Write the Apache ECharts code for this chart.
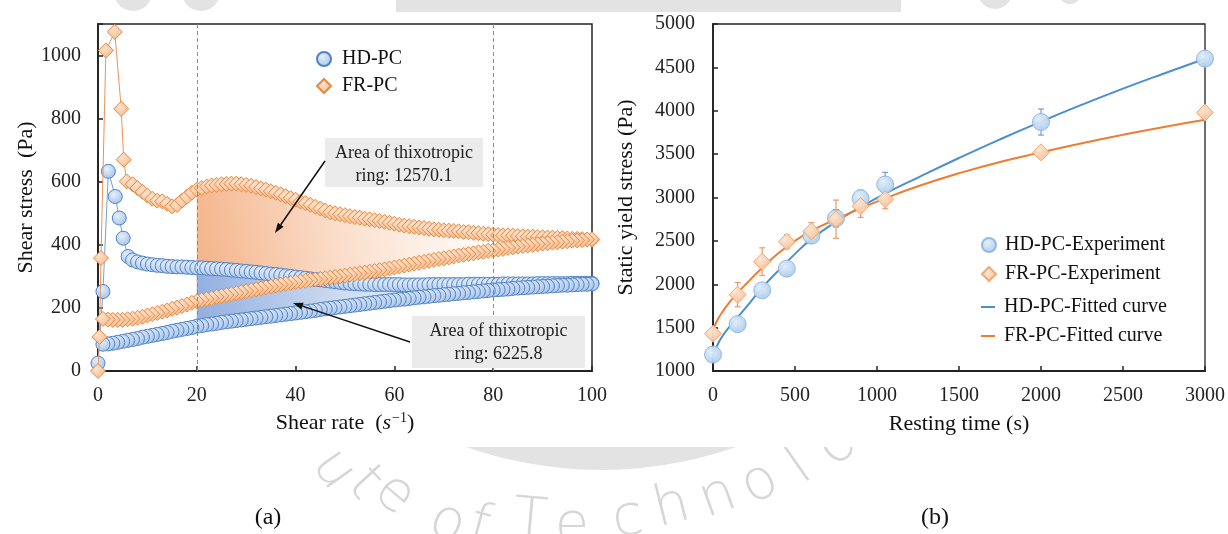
<!DOCTYPE html>
<html>
<head>
<meta charset="utf-8">
<script src="https://cdn.jsdelivr.net/npm/echarts/dist/echarts.min.js"></script>
<style>
  html, body { margin: 0; padding: 0; background: #fff; }
  #main { width: 1228px; height: 534px; }
</style>
</head>
<body>
<div id="main"></div>
<script>
// ---- (a) thixotropic loop data ----
const hdStartRate = [0, 1.0, 2.1, 3.5, 4.3, 5.1, 6.1];
const hdStartStress = [25, 252, 633, 553, 485, 421, 363];
const frStartRate = [0, 0.3, 0.6, 1.6, 3.4, 4.7, 5.2, 5.8];
const frStartStress = [0, 108, 358, 1016, 1075, 831, 670, 601];

// up-ramp, shear rate 7..100
const upRate = [];
for (let r = 7; r <= 100; r++) upRate.push(r);
const hdUpStress = [
  352, 346, 342, 339, 337, 335, 334, 332, 331, 330,
  330, 329, 328, 327, 327, 326, 325, 324, 323, 322,
  320, 319, 317, 316, 314, 313, 311, 309, 307, 306,
  304, 302, 300, 298, 296, 294, 292, 290, 289, 287,
  285, 283, 281, 279, 278, 277, 276, 275, 275, 274,
  274, 274, 274, 274, 274, 273, 273, 273, 273, 273,
  274, 274, 274, 274, 274, 274, 274, 274, 275, 275,
  275, 275, 275, 275, 275, 276, 276, 276, 276, 276,
  276, 276, 277, 277, 277, 277, 277, 277, 277, 278,
  278, 278, 278, 278
];
const frUpStress = [
  592, 580, 568, 556, 546, 540, 538, 530, 522, 526,
  540, 552, 565, 575, 580, 585, 588, 590, 592, 593,
  594, 594, 592, 590, 587, 583, 579, 575, 570, 565,
  560, 554, 548, 543, 537, 532, 527, 521, 515, 509,
  503, 500, 497, 494, 491, 488, 486, 483, 481, 478,
  476, 473, 470, 467, 464, 461, 459, 457, 455, 453,
  451, 449, 448, 446, 445, 444, 443, 441, 440, 438,
  437, 435, 434, 432, 431, 430, 430, 429, 428, 427,
  426, 426, 425, 424, 423, 423, 422, 421, 420, 419,
  419, 418, 417, 416
];

// down-ramp, listed from shear rate 1 up to 100 (measured 100 -> 1)
const downRate = [];
for (let r = 1; r <= 100; r++) downRate.push(r);
const hdDownStress = [
  85, 86, 88, 91, 94, 97, 100, 103, 107, 110,
  113, 116, 119, 122, 126, 129, 132, 135, 138, 142,
  144, 147, 149, 151, 154, 156, 158, 160, 162, 164,
  166, 168, 170, 172, 174, 176, 178, 180, 182, 184,
  186, 188, 190, 192, 195, 197, 199, 201, 203, 205,
  207, 209, 211, 213, 215, 217, 219, 221, 223, 225,
  227, 228, 230, 232, 234, 235, 237, 239, 240, 242,
  243, 245, 246, 248, 249, 251, 252, 254, 255, 257,
  258, 259, 260, 262, 263, 264, 265, 266, 267, 268,
  269, 270, 271, 272, 272, 273, 274, 275, 275, 276
];
const frDownStress = [
  165, 163, 162, 162, 162, 164, 166, 169, 172, 176,
  180, 184, 188, 192, 197, 201, 206, 211, 216, 221,
  225, 228, 231, 235, 238, 241, 244, 247, 250, 253,
  256, 259, 262, 265, 268, 271, 274, 277, 279, 282,
  284, 286, 288, 290, 292, 294, 296, 298, 300, 302,
  305, 307, 310, 312, 315, 317, 320, 322, 325, 328,
  331, 334, 337, 340, 343, 346, 349, 352, 355, 357,
  360, 363, 366, 368, 371, 373, 376, 378, 381, 383,
  385, 387, 390, 392, 394, 396, 398, 400, 402, 404,
  405, 407, 408, 410, 411, 413, 414, 415, 417, 418
];

// ---- (b) static yield stress data ----
const restTime = [0, 150, 300, 450, 600, 750, 900, 1050, 2000, 3000];
const hdYield = [1190, 1540, 1930, 2180, 2560, 2760, 2990, 3150, 3870, 4600];
const hdErr = [40, 60, 60, 70, 80, 100, 95, 140, 150, 50];
const frYield = [1430, 1880, 2260, 2490, 2610, 2750, 2900, 2980, 3520, 3980];
const frErr = [60, 140, 160, 80, 100, 220, 130, 110, 40, 40];

const fitTime = [0, 25, 50, 100, 150, 200, 300, 400, 500, 600, 750, 900, 1050, 1250, 1500, 1750, 2000, 2250, 2500, 2750, 3000];
const hdFit = [1180, 1290, 1380, 1510, 1620, 1730, 1960, 2160, 2350, 2520, 2720, 2890, 3045, 3230, 3455, 3670, 3875, 4070, 4255, 4430, 4600];
const frFit = [1480, 1580, 1660, 1790, 1900, 2000, 2190, 2360, 2500, 2615, 2750, 2875, 2990, 3130, 3280, 3410, 3520, 3625, 3722, 3812, 3895];

const serif = "'Liberation Serif', 'Times New Roman', serif";

function zip(xs, ys) { return xs.map((x, i) => [x, ys[i]]); }

function loop(startRate, startStress, upStress, downStress) {
  const pts = zip(startRate, startStress).concat(zip(upRate, upStress));
  for (let i = downRate.length - 1; i >= 0; i--) pts.push([downRate[i], downStress[i]]);
  return pts;
}

function ringFill(upStress, downStress, stops) {
  return function (params, api) {
    const pts = [];
    upRate.forEach((r, i) => { if (r >= 20 && r <= 80) pts.push(api.coord([r, upStress[i]])); });
    for (let i = downRate.length - 1; i >= 0; i--) {
      if (downRate[i] >= 20 && downRate[i] <= 80) pts.push(api.coord([downRate[i], downStress[i]]));
    }
    return {
      type: 'polygon',
      shape: { points: pts },
      style: { fill: new echarts.graphic.LinearGradient(0, 0.8, 1, 0.3, stops) }
    };
  };
}

function errorBars(color) {
  return function (params, api) {
    const x = api.value(0);
    const lo = api.coord([x, api.value(1)]);
    const hi = api.coord([x, api.value(2)]);
    const c = 3;
    const st = { stroke: color, lineWidth: 1.2 };
    return {
      type: 'group',
      children: [
        { type: 'line', shape: { x1: lo[0], y1: lo[1], x2: hi[0], y2: hi[1] }, style: st },
        { type: 'line', shape: { x1: lo[0] - c, y1: lo[1], x2: lo[0] + c, y2: lo[1] }, style: st },
        { type: 'line', shape: { x1: hi[0] - c, y1: hi[1], x2: hi[0] + c, y2: hi[1] }, style: st }
      ]
    };
  };
}

function arrow(x1, y1, x2, y2) {
  const a = Math.atan2(y2 - y1, x2 - x1), L = 10, W = 3.5;
  const bx = x2 - L * Math.cos(a), by = y2 - L * Math.sin(a);
  return [
    { type: 'line', shape: { x1: x1, y1: y1, x2: bx, y2: by }, style: { stroke: '#111', lineWidth: 1.5 }, z: 20 },
    { type: 'polygon', shape: { points: [[x2, y2], [bx - W * Math.sin(a), by + W * Math.cos(a)], [bx + W * Math.sin(a), by - W * Math.cos(a)]] }, style: { fill: '#111' }, z: 20 }
  ];
}

function noteBox(x, y, w, h, text) {
  return [
    { type: 'rect', shape: { x: x, y: y, width: w, height: h }, style: { fill: '#ebebeb' }, z: 18 },
    { type: 'text', x: x + w / 2, y: y + 4, z: 19,
      style: { text: text, align: 'center', verticalAlign: 'top', font: '18px ' + serif, fill: '#222', lineHeight: 23 } }
  ];
}

// faint background watermark (behind a white panel that holds both charts)
const wmGray = '#e3e3e3';
const wmLetters = [
  ['u', 333, 470, 55], ['t', 364, 484, 47], ['e', 394, 495, 40],
  ['o', 447, 524, 22], ['f', 479, 528, 15],
  ['T', 530, 522, 5], ['e', 572, 526, 0], ['c', 628, 520, -8], ['h', 672, 508, -14],
  ['n', 718, 498, -20], ['o', 760, 484, -28], ['l', 800, 468, -35], ['o', 838, 446, -42], ['g', 872, 418, -50]
];
const watermark = [
  { type: 'circle', shape: { cx: 601, cy: 60, r: 410 }, style: { fill: wmGray }, z: -12 },
  { type: 'rect', shape: { x: 0, y: 0, width: 1228, height: 14 }, style: { fill: '#ffffff' }, z: -11 },
  { type: 'rect', shape: { x: 396, y: 0, width: 505, height: 14 }, style: { fill: wmGray }, z: -10 },
  { type: 'circle', shape: { cx: 133, cy: -8, r: 19 }, style: { fill: wmGray }, z: -10 },
  { type: 'circle', shape: { cx: 201, cy: -8, r: 19 }, style: { fill: wmGray }, z: -10 },
  { type: 'circle', shape: { cx: 995, cy: -8, r: 17 }, style: { fill: wmGray }, z: -10 },
  { type: 'circle', shape: { cx: 1070, cy: -8, r: 12 }, style: { fill: wmGray }, z: -10 },
  { type: 'rect', shape: { x: 0, y: 12, width: 1228, height: 435 }, style: { fill: '#ffffff' }, z: -5 }
].concat(wmLetters.map(l => ({
  type: 'text', x: l[1], y: l[2], rotation: -l[3] * Math.PI / 180, z: -10,
  style: { text: l[0], font: '200 56px "DejaVu Sans"', fill: '#d6d6d6', align: 'center', verticalAlign: 'middle' }
})));

const hdMarker = new echarts.graphic.RadialGradient(0.4, 0.35, 0.7, [
  { offset: 0, color: '#e6effa' }, { offset: 1, color: '#a3c2ea' }
]);
const frMarker = new echarts.graphic.RadialGradient(0.4, 0.35, 0.7, [
  { offset: 0, color: '#fde3cd' }, { offset: 1, color: '#f7b988' }
]);
const hdMarkerB = new echarts.graphic.RadialGradient(0.4, 0.35, 0.7, [
  { offset: 0, color: '#e3eefa' }, { offset: 1, color: '#a9cbec' }
]);
const frMarkerB = new echarts.graphic.RadialGradient(0.4, 0.35, 0.7, [
  { offset: 0, color: '#fde5d2' }, { offset: 1, color: '#f6bf95' }
]);

const plainNumber = v => String(v);
const axisCommon = {
  axisLine: { lineStyle: { color: '#222', width: 1.8 } },
  axisTick: { inside: true, length: 5, lineStyle: { color: '#222', width: 1.5 } },
  axisLabel: { color: '#222', fontSize: 20, fontFamily: serif, formatter: plainNumber },
  splitLine: { show: false },
  nameLocation: 'middle',
  nameTextStyle: { color: '#111', fontSize: 22, fontFamily: serif }
};

const chart = echarts.init(document.getElementById('main'));
chart.setOption({
  animation: false,
  backgroundColor: '#fff',
  grid: [
    { left: 98, top: 24, width: 494, height: 347, show: true, borderColor: '#222', borderWidth: 1.5 },
    { left: 713, top: 24, width: 494, height: 347, show: true, borderColor: '#222', borderWidth: 1.3 }
  ],
  xAxis: [
    Object.assign({}, axisCommon, {
      gridIndex: 0, type: 'value', min: 0, max: 100, interval: 20,
      axisLabel: Object.assign({}, axisCommon.axisLabel, { margin: 15 }),
      name: '{n|Shear rate  (}{i|s}{s|−1}{n|)}', nameGap: 40,
      nameTextStyle: { rich: {
        n: { fontSize: 22, fontFamily: serif, color: '#111' },
        i: { fontSize: 22, fontFamily: serif, fontStyle: 'italic', color: '#111' },
        s: { fontSize: 14, fontFamily: serif, color: '#111', verticalAlign: 'top', padding: [0, 0, 10, 1] }
      } }
    }),
    Object.assign({}, axisCommon, {
      gridIndex: 1, type: 'value', min: 0, max: 3000, interval: 500,
      axisLabel: Object.assign({}, axisCommon.axisLabel, { margin: 15 }),
      name: 'Resting time (s)', nameGap: 42
    })
  ],
  yAxis: [
    Object.assign({}, axisCommon, {
      gridIndex: 0, type: 'value', min: 0, max: 1100, interval: 200,
      axisLabel: Object.assign({}, axisCommon.axisLabel, { margin: 17, formatter: v => (v % 200 === 0 ? String(v) : '') }),
      name: 'Shear stress  (Pa)', nameGap: 54
    }),
    Object.assign({}, axisCommon, {
      gridIndex: 1, type: 'value', min: 1000, max: 5000, interval: 500,
      axisLabel: Object.assign({}, axisCommon.axisLabel, { margin: 18 }),
      name: 'Static yield stress (Pa)', nameGap: 76
    })
  ],
  legend: [
    {
      orient: 'vertical', left: 311, top: 44, itemWidth: 14, itemHeight: 14, itemGap: 7,
      textStyle: { fontSize: 20, fontFamily: serif, color: '#111', padding: [0, 0, 0, 6] },
      data: [{ name: 'HD-PC', icon: 'circle' }, { name: 'FR-PC', icon: 'diamond' }]
    },
    {
      orient: 'vertical', left: 976, top: 230, itemWidth: 14, itemHeight: 14, itemGap: 9,
      textStyle: { fontSize: 20, fontFamily: serif, color: '#111', padding: [0, 0, 0, 4] },
      data: [{ name: 'HD-PC-Experiment', icon: 'circle' }, { name: 'FR-PC-Experiment', icon: 'diamond' }]
    },
    {
      orient: 'vertical', left: 976, top: 292, itemWidth: 14, itemHeight: 2, itemGap: 9,
      textStyle: { fontSize: 20, fontFamily: serif, color: '#111', padding: [0, 0, 0, 4] },
      data: [{ name: 'HD-PC-Fitted curve', icon: 'rect' }, { name: 'FR-PC-Fitted curve', icon: 'rect' }]
    }
  ],
  series: [
    {
      type: 'custom', xAxisIndex: 0, yAxisIndex: 0, z: 1, silent: true, clip: true,
      data: [[20, 400]],
      renderItem: ringFill(frUpStress, frDownStress, [
        { offset: 0, color: '#f4b389' }, { offset: 0.5, color: '#fbdfcc' }, { offset: 1, color: '#ffffff' }
      ])
    },
    {
      type: 'custom', xAxisIndex: 0, yAxisIndex: 0, z: 1, silent: true, clip: true,
      data: [[20, 200]],
      renderItem: ringFill(hdUpStress, hdDownStress, [
        { offset: 0, color: '#92afe0' }, { offset: 0.5, color: '#cfdcf1' }, { offset: 1, color: '#ffffff' }
      ])
    },
    {
      name: 'HD-PC', type: 'line', xAxisIndex: 0, yAxisIndex: 0, z: 3,
      data: loop(hdStartRate, hdStartStress, hdUpStress, hdDownStress),
      symbol: 'circle', symbolSize: 14,
      lineStyle: { color: '#7a9fd6', width: 1 },
      itemStyle: { color: hdMarker, borderColor: '#5282c6', borderWidth: 1 },
      emphasis: { disabled: true },
      markLine: {
        silent: true, symbol: 'none', label: { show: false },
        lineStyle: { color: '#8a8a8a', type: [4, 3], width: 1 },
        data: [{ xAxis: 20 }, { xAxis: 80 }]
      }
    },
    {
      name: 'FR-PC', type: 'line', xAxisIndex: 0, yAxisIndex: 0, z: 4,
      data: loop(frStartRate, frStartStress, frUpStress, frDownStress),
      symbol: 'diamond', symbolSize: 15,
      lineStyle: { color: '#e8935a', width: 1 },
      itemStyle: { color: frMarker, borderColor: '#e58a45', borderWidth: 1 },
      emphasis: { disabled: true }
    },
    {
      type: 'custom', xAxisIndex: 1, yAxisIndex: 1, z: 2, silent: true,
      data: restTime.map((t, i) => [t, hdYield[i] - hdErr[i], hdYield[i] + hdErr[i]]),
      renderItem: errorBars('#6f9fd3')
    },
    {
      type: 'custom', xAxisIndex: 1, yAxisIndex: 1, z: 2, silent: true,
      data: restTime.map((t, i) => [t, frYield[i] - frErr[i], frYield[i] + frErr[i]]),
      renderItem: errorBars('#eb9a62')
    },
    {
      name: 'HD-PC-Fitted curve', type: 'line', xAxisIndex: 1, yAxisIndex: 1, z: 3,
      data: zip(fitTime, hdFit), smooth: true, showSymbol: false, symbol: 'none',
      lineStyle: { color: '#4b8fcd', width: 2 }, itemStyle: { color: '#4b8fcd' },
      emphasis: { disabled: true }
    },
    {
      name: 'FR-PC-Fitted curve', type: 'line', xAxisIndex: 1, yAxisIndex: 1, z: 3,
      data: zip(fitTime, frFit), smooth: true, showSymbol: false, symbol: 'none',
      lineStyle: { color: '#ec7d33', width: 2 }, itemStyle: { color: '#ec7d33' },
      emphasis: { disabled: true }
    },
    {
      name: 'HD-PC-Experiment', type: 'scatter', xAxisIndex: 1, yAxisIndex: 1, z: 4,
      data: zip(restTime, hdYield), symbol: 'circle', symbolSize: 17,
      itemStyle: { color: hdMarkerB, borderColor: '#8fb6e3', borderWidth: 1, opacity: 0.95 },
      emphasis: { disabled: true }
    },
    {
      name: 'FR-PC-Experiment', type: 'scatter', xAxisIndex: 1, yAxisIndex: 1, z: 5,
      data: zip(restTime, frYield), symbol: 'diamond', symbolSize: 17,
      itemStyle: { color: frMarkerB, borderColor: '#f0a56e', borderWidth: 1, opacity: 0.95 },
      emphasis: { disabled: true }
    }
  ],
  graphic: watermark
    .concat(noteBox(325, 138, 158, 49, 'Area of thixotropic\nring: 12570.1'))
    .concat(noteBox(412, 316, 173, 52, 'Area of thixotropic\nring: 6225.8'))
    .concat(arrow(325, 161, 275, 233))
    .concat(arrow(410, 342, 293, 303))
    .concat([
      { type: 'text', x: 268, y: 518, style: { text: '(a)', font: '24px ' + serif, fill: '#111', align: 'center', verticalAlign: 'middle' } },
      { type: 'text', x: 935, y: 518, style: { text: '(b)', font: '24px ' + serif, fill: '#111', align: 'center', verticalAlign: 'middle' } }
    ])
});
</script>
</body>
</html>
